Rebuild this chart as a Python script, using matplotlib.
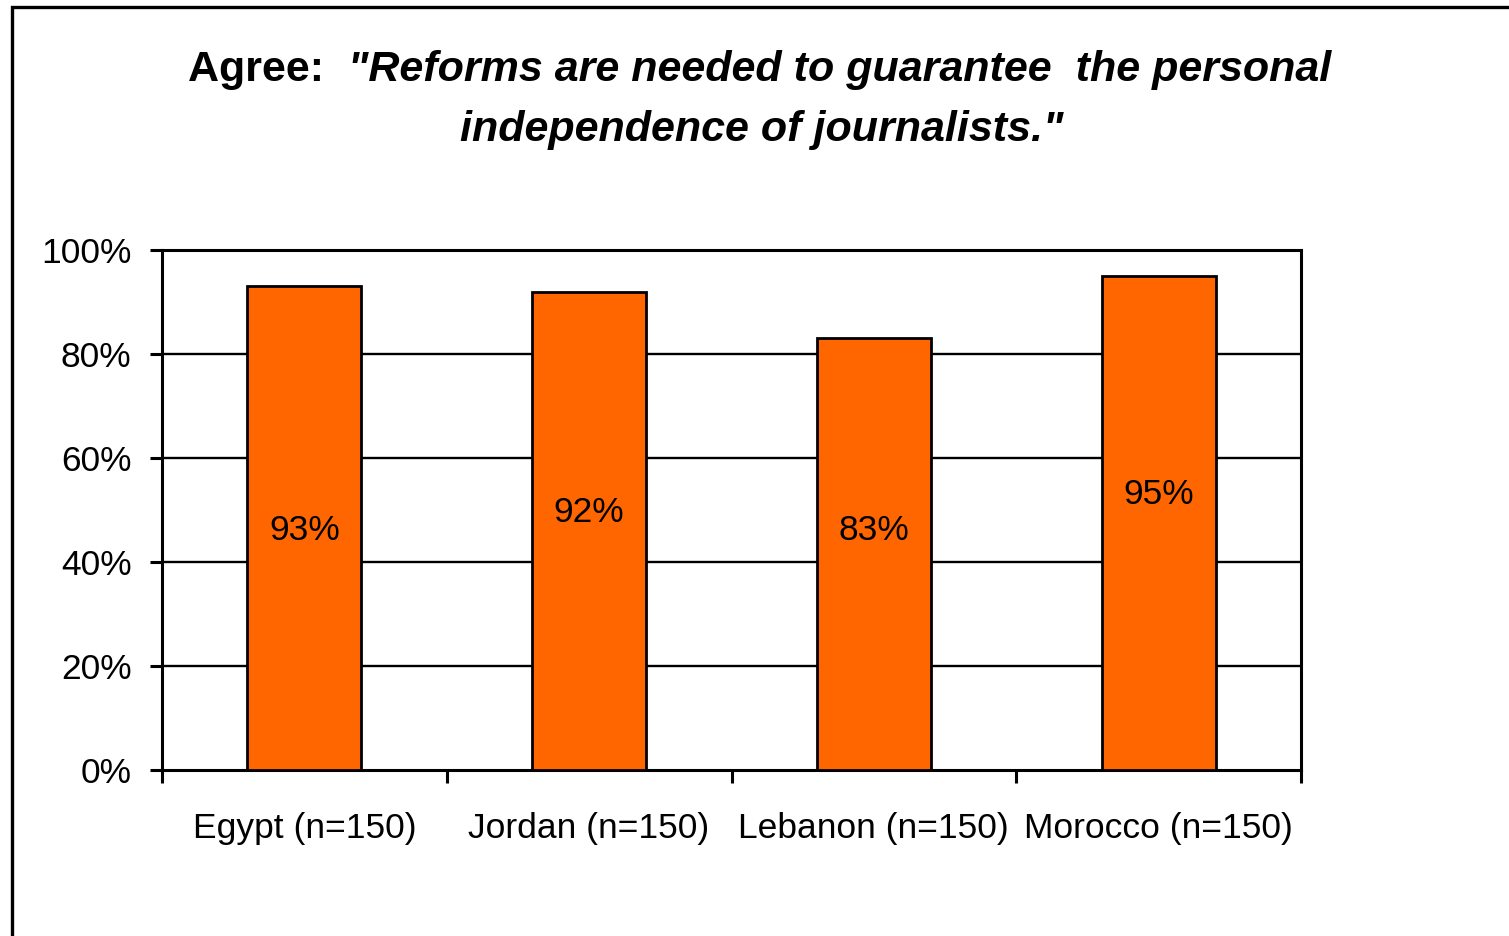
import matplotlib
matplotlib.use("Agg")
from matplotlib import pyplot as plt
from matplotlib.patches import Rectangle

plt.rcParams['font.family'] = ['Liberation Sans', 'DejaVu Sans']

countries = ["Egypt (n=150)", "Jordan (n=150)", "Lebanon (n=150)", "Morocco (n=150)"]
agree = [93, 92, 83, 95]
label_y = [46, 49.5, 46, 53]   # where each value label sits inside its bar
yticks = [0, 20, 40, 60, 80, 100]

fig = plt.figure(figsize=(15.09, 9.36), dpi=100)
fig.patch.set_facecolor('white')

# frame around the whole chart area (runs off the right and bottom edges)
fig.patches.append(Rectangle((12 / 1509, -0.1), 1.2, 0.1 + (936 - 7) / 936,
                             transform=fig.transFigure, fill=False,
                             edgecolor='black', linewidth=2.4))

ax = fig.add_axes([162 / 1509, (936 - 770) / 936, (1301 - 162) / 1509, 520 / 936])

xs = range(len(countries))
ax.bar(xs, agree, width=0.4, color='#FF6600', edgecolor='black', linewidth=2.0, zorder=3)

for x, v, ly in zip(xs, agree, label_y):
    ax.text(x, ly, f"{v}%", ha='center', va='center', fontsize=25.5, zorder=4)

ax.set_xlim(-0.5, len(countries) - 0.5)
ax.set_ylim(0, 100)
ax.set_yticks(yticks)
ax.set_yticklabels([f"{t}%" for t in yticks], fontsize=25.5)
for t in yticks[1:]:
    ax.axhline(t, color='black', linewidth=1.7, zorder=1)

ax.set_xticks(list(xs))
ax.set_xticklabels(countries, fontsize=25.5)
ax.set_xticks([i - 0.5 for i in range(len(countries) + 1)], minor=True)
ax.tick_params(axis='x', which='major', length=0, pad=30)
ax.tick_params(axis='x', which='minor', length=9, width=2.2, direction='out')
ax.tick_params(axis='y', length=9, width=2.2, direction='out', pad=13)

for s in ax.spines.values():
    s.set_linewidth(2.2)
    s.set_color('black')

# title: "Agree:" upright bold, the quote bold italic
fig.canvas.draw()
r = fig.canvas.get_renderer()
fs = 31
part_a = "Agree:  "
part_b = "\"Reforms are needed to guarantee  the personal"
ta = fig.text(0, 0, part_a, fontsize=fs, fontweight='bold', va='center')
tb = fig.text(0, 0, part_b, fontsize=fs, fontweight='bold', fontstyle='italic', va='center')
wa = ta.get_window_extent(r).width
wb = tb.get_window_extent(r).width
cx = 760
y1 = 1 - 70 / 936
left = cx - (wa + wb) / 2
ta.set_position((left / 1509, y1))
tb.set_position(((left + wa) / 1509, y1))
fig.text(762 / 1509, 1 - 130 / 936, "independence of journalists.\"", fontsize=fs,
         fontweight='bold', fontstyle='italic', ha='center', va='center')

fig.savefig("out.png", dpi=100)
